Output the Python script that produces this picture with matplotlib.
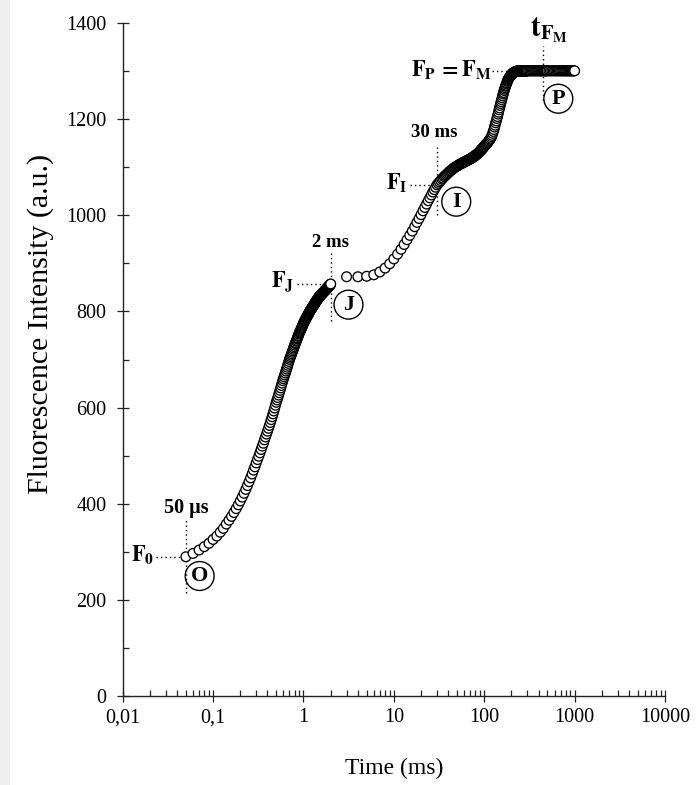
import numpy as np
import matplotlib
matplotlib.use("Agg")
import matplotlib.pyplot as plt
from matplotlib.patches import Rectangle
from matplotlib.ticker import FixedLocator, FixedFormatter, LogLocator, MultipleLocator, NullFormatter

plt.rcParams['font.family'] = ['Liberation Serif', 'DejaVu Serif']
plt.rcParams['mathtext.fontset'] = 'stix'

# ---- data: OJIP chlorophyll fluorescence transient ----
# acquisition schedule of the fluorimeter (ms)
t_fast = np.round(np.arange(5, 201) * 0.01, 2)        # 0.05 ... 2.00 ms, 10 us steps
t_mid = np.arange(3, 31, 1.0)                          # 3 ... 30 ms, 1 ms steps
t_rise = np.concatenate([np.arange(31, 101, 1.0),      # 31 ... 100 ms
                         np.arange(102, 241, 2.0)])    # 102 ... 240 ms
t_plateau = np.concatenate([np.arange(242, 301, 2.0),  # 242 ... 300 ms
                            np.arange(310, 501, 10.0), # 310 ... 500 ms
                            np.arange(520, 1001, 20.0)])  # 520 ... 1000 ms

# fluorescence intensity (a.u.)
F_fast = [
    290, 297, 304, 311, 318, 326, 333, 341, 349, 358,
    366, 374, 382, 390, 398, 406, 414, 422, 430, 438,
    446, 454, 462, 470, 477, 485, 492, 499, 506, 513,
    520, 526, 533, 539, 545, 551, 557, 563, 569, 575,
    581, 587, 593, 599, 605, 611, 616, 621, 626, 631,
    636, 641, 646, 651, 656, 660, 664, 668, 672, 676,
    680, 684, 688, 692, 696, 700, 703, 706, 709, 712,
    715, 718, 721, 724, 727, 730, 733, 735, 738, 740,
    743, 745, 748, 750, 753, 755, 757, 759, 761, 763,
    765, 767, 769, 771, 773, 775, 777, 778, 780, 781,
    783, 784, 786, 787, 789, 790, 791, 793, 794, 795,
    797, 798, 799, 801, 802, 803, 804, 805, 806, 807,
    808, 809, 810, 811, 812, 813, 814, 815, 816, 817,
    818, 819, 820, 821, 822, 823, 824, 824, 825, 826,
    827, 828, 828, 829, 830, 831, 831, 832, 832, 833,
    834, 834, 835, 835, 836, 837, 837, 838, 838, 839,
    839, 840, 840, 841, 841, 842, 842, 843, 843, 844,
    844, 845, 845, 846, 846, 847, 847, 848, 848, 849,
    849, 850, 850, 851, 851, 852, 852, 853, 853, 854,
    854, 855, 855, 856, 856, 857,
]
F_mid = [
    872, 872, 873, 876, 882, 890, 899, 909, 919, 929,
    939, 949, 958, 967, 976, 985, 993, 1001, 1009, 1016,
    1023, 1030, 1036, 1042, 1048, 1053, 1058, 1063,
]
F_rise = [
    1066, 1069, 1072, 1075, 1077, 1080, 1082, 1084, 1086, 1088,
    1090, 1092, 1093, 1095, 1096, 1098, 1099, 1100, 1101, 1102,
    1103, 1104, 1105, 1106, 1107, 1107, 1108, 1109, 1110, 1110,
    1111, 1112, 1112, 1113, 1114, 1114, 1115, 1116, 1116, 1117,
    1118, 1118, 1119, 1120, 1120, 1121, 1122, 1123, 1123, 1124,
    1125, 1126, 1127, 1127, 1128, 1129, 1130, 1131, 1132, 1133,
    1134, 1135, 1136, 1137, 1138, 1139, 1140, 1141, 1142, 1143,
    1145, 1147, 1148, 1150, 1152, 1154, 1156, 1158, 1160, 1163,
    1166, 1170, 1174, 1178, 1183, 1187, 1192, 1196, 1201, 1205,
    1210, 1214, 1219, 1223, 1228, 1232, 1236, 1240, 1244, 1248,
    1252, 1255, 1259, 1262, 1265, 1268, 1270, 1273, 1275, 1278,
    1280, 1282, 1284, 1285, 1287, 1288, 1289, 1290, 1291, 1292,
    1293, 1294, 1294, 1295, 1296, 1296, 1297, 1297, 1298, 1298,
    1298, 1299, 1299, 1299, 1299, 1299, 1300, 1300, 1300, 1300,
]
F_plateau = [
    1300, 1300, 1300, 1300, 1300, 1300, 1300, 1300, 1300, 1300,
    1300, 1300, 1300, 1300, 1300, 1300, 1300, 1300, 1300, 1300,
    1300, 1300, 1300, 1300, 1300, 1300, 1300, 1300, 1300, 1300,
    1300, 1300, 1300, 1300, 1300, 1300, 1300, 1300, 1300, 1300,
    1300, 1300, 1300, 1300, 1300, 1300, 1300, 1300, 1300, 1300,
    1300, 1300, 1300, 1300, 1300, 1300, 1300, 1300, 1300, 1300,
    1300, 1300, 1300, 1300, 1300, 1300, 1300, 1300, 1300, 1300,
    1300, 1300, 1300, 1300, 1300,
]

x_ticks = [0.01, 0.1, 1, 10, 100, 1000, 10000]
x_tick_labels = ['0,01', '0,1', '1', '10', '100', '1000', '10000']
y_ticks = [0, 200, 400, 600, 800, 1000, 1200, 1400]

# characteristic points of the transient
t_O, t_J, t_I, t_FM = 0.05, 2.0, 30.0, 450.0

time = np.concatenate([t_fast, t_mid, t_rise, t_plateau])
fluo = np.concatenate([F_fast, F_mid, F_rise, F_plateau]).astype(float)

F_O = F_fast[0]
F_J = F_fast[-1]
F_I = F_mid[-1]
F_P = F_plateau[0]

# ---- figure ----
W, H = 697, 785
fig = plt.figure(figsize=(W / 100, H / 100), dpi=100)
fig.add_artist(Rectangle((0, 0), 10 / W, 1, transform=fig.transFigure,
                         facecolor='#efefef', edgecolor='none', zorder=-5))
ax = fig.add_axes([122.7 / W, 88.7 / H, (665.0 - 122.7) / W, 673.6 / H])

# open circles, each drawn over the previous one in time order
marker_area = np.full(len(time), 7.0 ** 2)
ax.scatter(time, fluo, s=marker_area, marker='o', facecolors='white',
           edgecolors='black', linewidths=0.95, clip_on=False, zorder=3)

ax.set_xscale('log')
ax.set_xlim(x_ticks[0], x_ticks[-1])
ax.set_ylim(y_ticks[0], y_ticks[-1])

ax.xaxis.set_major_locator(FixedLocator(x_ticks))
ax.xaxis.set_major_formatter(FixedFormatter(x_tick_labels))
ax.xaxis.set_minor_locator(LogLocator(base=10, subs=np.arange(2, 10)))
ax.xaxis.set_minor_formatter(NullFormatter())
ax.yaxis.set_major_locator(FixedLocator(y_ticks))
ax.yaxis.set_minor_locator(MultipleLocator(100))

for s in ('top', 'right'):
    ax.spines[s].set_visible(False)
for s in ('left', 'bottom'):
    ax.spines[s].set_linewidth(1.0)
    ax.spines[s].set_color('#222222')

ax.tick_params(which='major', direction='inout', length=9, width=0.9,
               labelsize=14.5, color='#222222')
ax.tick_params(which='minor', direction='in', length=4, width=0.9, color='#222222')
ax.tick_params(axis='x', which='major', pad=4)
ax.tick_params(axis='y', which='major', pad=7)

ax.set_xlabel('Time (ms)', fontsize=17)
ax.set_ylabel('Fluorescence Intensity (a.u.)', fontsize=21.5)
ax.xaxis.set_label_coords(0.5, -0.092)
ax.yaxis.set_label_coords(-0.127, 0.553)

# ---- annotations of the O, J, I, P steps ----
dot = dict(color='black', linestyle=(0, (1, 2.2)), linewidth=1.0, zorder=2)
bold = dict(fontweight='bold')
ring = dict(boxstyle='circle,pad=0.2', facecolor='none', edgecolor='black', linewidth=1.0)

# O step
ax.plot([0.0234, 0.045], [F_O, F_O], **dot)
ax.plot([t_O, t_O], [215, 366], **dot)
ax.text(0.0225, F_O + 4, r'$\mathbf{F}_{\mathbf{0}}$', fontsize=16, ha='right', va='center')
ax.text(t_O, 392, '50 µs', fontsize=14.5, ha='center', va='center', **bold)
ax.text(0.071, 250, 'O', fontsize=16, ha='center', va='center', bbox=ring, **bold)

# J step
ax.plot([0.85, 1.78], [F_J, F_J], **dot)
ax.plot([t_J, t_J], [780, 925], **dot)
ax.text(0.79, F_J + 4, r'$\mathbf{F}_{\mathbf{J}}$', fontsize=16, ha='right', va='center')
ax.text(t_J, 944, '2 ms', fontsize=13.5, ha='center', va='center', **bold)
ax.text(3.15, 814, 'J', fontsize=16, ha='center', va='center', bbox=ring, **bold)

# I step
ax.plot([15.2, 26.6], [F_I, F_I], **dot)
ax.plot([t_I, t_I], [1000, 1142], **dot)
ax.text(14.1, F_I + 4, r'$\mathbf{F}_{\mathbf{I}}$', fontsize=16, ha='right', va='center')
ax.text(28.0, 1171, '30 ms', fontsize=13.5, ha='center', va='center', **bold)
ax.text(49, 1028, 'I', fontsize=16, ha='center', va='center', bbox=ring, **bold)

# P step
ax.plot([123, 205], [F_P, F_P], **dot)
ax.plot([t_FM, t_FM], [1240, 1352], **dot)
ax.text(120, F_P + 2, r'$\mathbf{F}_{\mathbf{P}}\,\mathbf{{=}F}_{\mathbf{M}}$',
        fontsize=16, ha='right', va='center')
ax.text(515, 1385, r'$\mathbf{t}_{\mathbf{F}_{\mathbf{M}}}$', fontsize=21,
        ha='center', va='center', clip_on=False)
ax.text(660, 1242, 'P', fontsize=16, ha='center', va='center', bbox=ring, **bold)

fig.savefig('out.png', dpi=100)
